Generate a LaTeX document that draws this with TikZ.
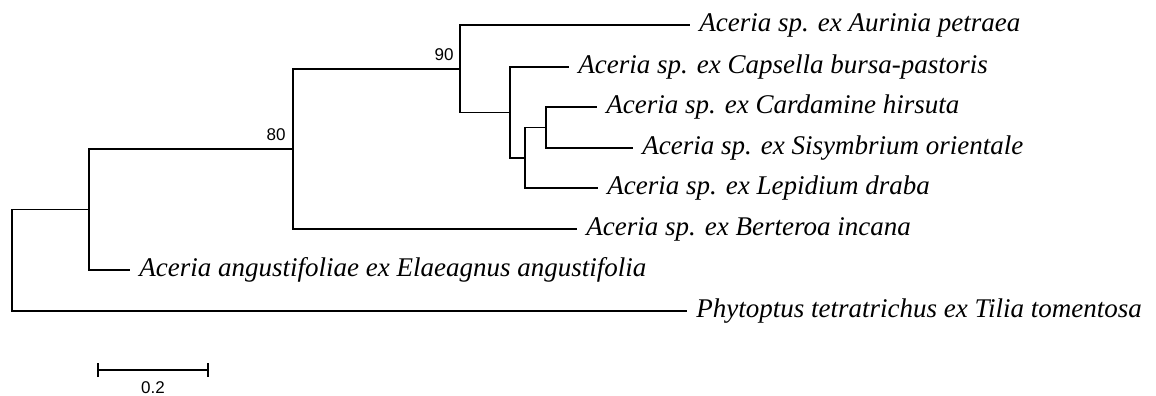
\documentclass[tikz,border=0pt]{standalone}
\usepackage{fontspec}
\setmainfont{Liberation Serif}
\newfontfamily\bootfont{Liberation Sans}
\usetikzlibrary{positioning,arrows.meta}

\begin{document}
\begin{tikzpicture}[
		x=0.5pt, y=-0.5pt,
		branch/.style = {line width=0.9pt, line join=miter},
		taxon/.style = {anchor=west, inner sep=4.5pt, font=\fontsize{13.5}{15}\selectfont\itshape, text height=0.66em, text depth=0pt},
		boot/.style = {inner sep=0pt, font=\bootfont\fontsize{8.5}{10}\selectfont}
		]
		\useasboundingbox (0,0) rectangle (1156,396);
		% internal nodes of the tree
		\coordinate (root) at (12,260);
		\coordinate (nA) at (89,209.5);
		\coordinate (n80) at (293,149);
		\coordinate (n90) at (460,69);
		\coordinate (nB) at (510,112.5);
		\coordinate (nC) at (525,158);
		\coordinate (nD) at (546,127.5);
		% taxa
		\node[taxon] at (690,25) (aurinia) {Aceria sp. ex Aurinia petraea};
		\node[taxon] at (569,67) (capsella) {Aceria sp. ex Capsella bursa-pastoris};
		\node[taxon] at (597,107) (cardamine) {Aceria sp. ex Cardamine hirsuta};
		\node[taxon] at (633,148) (sisymbrium) {Aceria sp. ex Sisymbrium orientale};
		\node[taxon] at (598,188) (lepidium) {Aceria sp. ex Lepidium draba};
		\node[taxon] at (577,229) (berteroa) {Aceria sp. ex Berteroa incana};
		\node[taxon] at (130,270) (elaeagnus) {Aceria angustifoliae ex Elaeagnus angustifolia};
		\node[taxon] at (687,311) (phytoptus) {Phytoptus tetratrichus ex Tilia tomentosa};
		% Draw the branches
		\draw[branch] (root) |- (nA);
		\draw[branch] (root) |- (phytoptus.west);
		\draw[branch] (nA) |- (n80);
		\draw[branch] (nA) |- (elaeagnus.west);
		\draw[branch] (n80) |- (n90);
		\draw[branch] (n80) |- (berteroa.west);
		\draw[branch] (n90) |- (aurinia.west);
		\draw[branch] (n90) |- (nB);
		\draw[branch] (nB) |- (capsella.west);
		\draw[branch] (nB) |- (nC);
		\draw[branch] (nC) |- (nD);
		\draw[line width=0.55pt] (nC) |- (lepidium.west);
		\draw[branch] (nD) |- (cardamine.west);
		\draw[branch] (nD) |- (sisymbrium.west);
		% bootstrap values
		\node[boot, above left=4pt and 3.5pt of n80] (b80) {80};
		\node[boot, above left=4pt and 3pt of n90] (b90) {90};
		% scale bar
		\coordinate (barL) at (97,370);
		\coordinate (barR) at (209,370);
		\coordinate (barM) at (153,370);
		\draw[branch, {Bar[width=7pt]}-{Bar[width=7pt]}] (barL) -- (barR);
		\node[boot, below=5.5pt of barM] (barlabel) {0.2};
\end{tikzpicture}
\end{document}
